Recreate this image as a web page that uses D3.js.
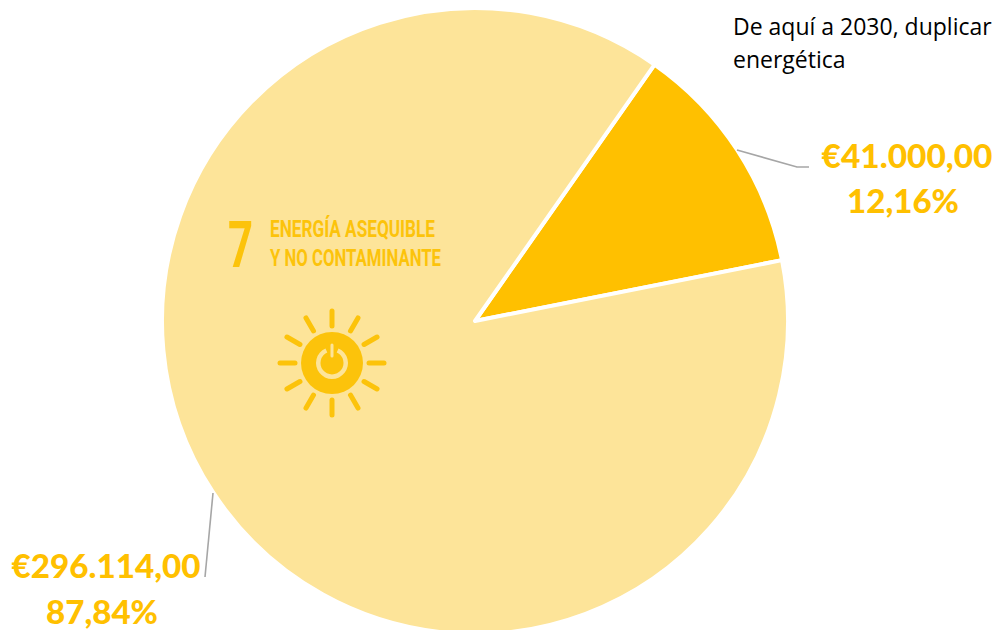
<!DOCTYPE html>
<html><head><meta charset="utf-8">
<script src="https://cdn.jsdelivr.net/npm/d3@7"></script>
<style>html,body{margin:0;padding:0;background:#fff;overflow:hidden}svg{display:block}</style>
</head><body><svg id="c" width="994" height="630"></svg>
<script>
const categories = ["Meta 7.3", "Resto"];
const amounts = [41000, 296114];
const amountLabels = ["€41.000,00", "€296.114,00"];
const percentLabels = ["12,16%", "87,84%"];
const sliceColors = ["#FFC000", "#FDE499"];
const titleLines = ["De aquí a 2030, duplicar", "energética"];
const logoNumber = "7";
const logoLines = ["ENERGÍA ASEQUIBLE", "Y NO CONTAMINANTE"];
const rayAngles = d3.range(12);

const svg = d3.select("#c");
const cx = 475, cy = 321, R = 313;
const rot = 35 * Math.PI / 180;
const pie = d3.pie().sort(null).value((d, i) => amounts[i])
  .startAngle(rot).endAngle(rot + 2 * Math.PI);
const arc = d3.arc().innerRadius(0).outerRadius(R);
const g = svg.append("g").attr("transform", `translate(${cx},${cy})`);
g.selectAll("path").data(pie(categories)).join("path")
  .attr("d", arc).attr("fill", (d, i) => sliceColors[i])
  .attr("stroke", "#fff").attr("stroke-width", 4).attr("stroke-linejoin", "round");

// leader lines
const leader = d3.line();
svg.append("path").attr("d", leader([[737, 150], [797, 167], [809, 167]]))
  .attr("fill", "none").attr("stroke", "#A6A6A6").attr("stroke-width", 1.6);
svg.append("path").attr("d", leader([[213, 493], [205, 577]]))
  .attr("fill", "none").attr("stroke", "#A6A6A6").attr("stroke-width", 1.6);

// data labels
const lab = (x, y, t, w) => svg.append("text").attr("x", x).attr("y", y).attr("text-anchor", "middle")
  .attr("font-family", "Lato, 'Open Sans', sans-serif").attr("font-weight", 900).attr("font-size", 33)
  .attr("fill", "#FFC000").attr("textLength", w).attr("lengthAdjust", "spacingAndGlyphs").text(t);
lab(907, 168, amountLabels[0], 171); lab(903, 213, percentLabels[0], 112);
lab(106, 578, amountLabels[1], 189); lab(102, 624, percentLabels[1], 112);

// title
titleLines.forEach((t, i) => svg.append("text").attr("x", 733).attr("y", 35 + i * 33)
  .attr("font-family", "'Open Sans', sans-serif").attr("font-size", 23).attr("fill", "#000").text(t));

// SDG logo
const gold = "#FCC30B", pale = "#FDE499";
svg.append("text").attr("x", 228).attr("y", 267).attr("font-family", "'Liberation Sans Narrow','Roboto',sans-serif")
  .attr("font-weight", 700).attr("font-size", 64).attr("fill", gold)
  .attr("textLength", 25).attr("lengthAdjust", "spacingAndGlyphs").text(logoNumber);
logoLines.forEach((t, i) => svg.append("text").attr("x", 270).attr("y", 237 + i * 29)
  .attr("font-family", "'Liberation Sans Narrow','Roboto',sans-serif").attr("font-weight", 700)
  .attr("font-size", 23).attr("fill", gold)
  .attr("textLength", i ? 171 : 165).attr("lengthAdjust", "spacingAndGlyphs").text(t));

const sun = svg.append("g").attr("transform", "translate(332,363)");
sun.selectAll("line").data(rayAngles).join("line")
  .each(function (k) {
    const a = k * Math.PI / 6;
    d3.select(this).attr("x1", 37 * Math.sin(a)).attr("y1", -37 * Math.cos(a))
      .attr("x2", 52 * Math.sin(a)).attr("y2", -52 * Math.cos(a));
  })
  .attr("stroke", gold).attr("stroke-width", 5).attr("stroke-linecap", "round");
sun.append("circle").attr("r", 31).attr("fill", gold);
sun.append("path").attr("d", d3.arc().innerRadius(11.5).outerRadius(16)
  .startAngle(0.42).endAngle(2 * Math.PI - 0.42)()).attr("fill", pale);
sun.append("line").attr("x1", 0).attr("x2", 0).attr("y1", -19).attr("y2", -5)
  .attr("stroke", gold).attr("stroke-width", 7);
sun.append("line").attr("x1", 0).attr("x2", 0).attr("y1", -18).attr("y2", -7)
  .attr("stroke", pale).attr("stroke-width", 3).attr("stroke-linecap", "round");
</script></body></html>
